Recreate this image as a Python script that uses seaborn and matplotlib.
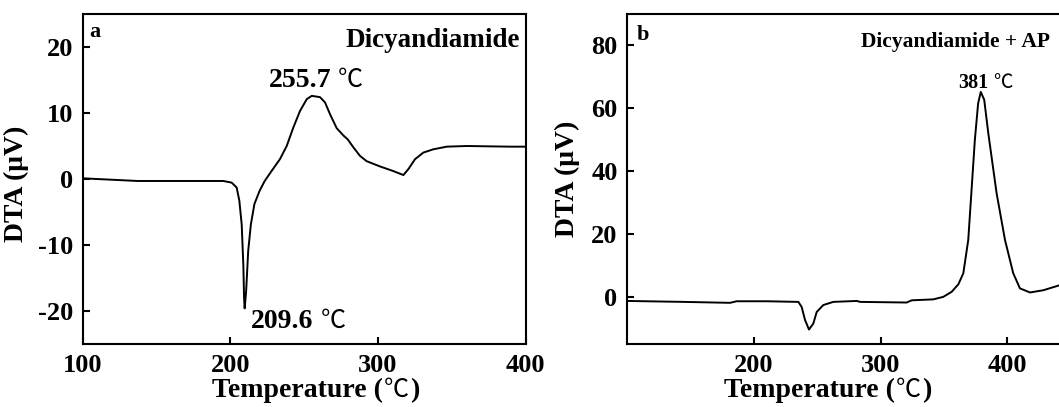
import numpy as np
import pandas as pd
import matplotlib
matplotlib.use("Agg")
import matplotlib.pyplot as plt
import seaborn as sns

# Panel a: Dicyandiamide
temp_a = [100, 137.1, 172.5, 195.1, 200.8, 204.2, 206.0, 207.6, 208.7, 209.2, 209.6,
          210.6, 212.0, 213.8, 216.2, 219.7, 223.2, 227.8, 233.5, 238.1, 242.6,
          247.1, 251.7, 255.1, 260.7, 264.1, 267.5, 272.0, 276.5, 279.5, 283.3,
          287.8, 292.3, 301.4, 310.4, 317.2, 320.6, 325.1, 330.7, 337.5, 346.6,
          360.1, 389.5, 400]
dta_a = [0.1, -0.3, -0.3, -0.3, -0.55, -1.3, -3.3, -6.9, -13.0, -18.0, -19.6,
         -17.0, -10.9, -6.9, -3.8, -1.8, -0.3, 1.2, 3.0, 5.0, 7.8,
         10.3, 12.1, 12.6, 12.4, 11.6, 9.8, 7.7, 6.6, 6.0, 4.8,
         3.5, 2.7, 1.9, 1.2, 0.6, 1.5, 3.0, 4.0, 4.5, 4.9,
         5.0, 4.9, 4.9]

# Panel b: Dicyandiamide + AP
temp_b = [100, 144.2, 181.1, 186.3, 210.0, 235.0, 237.6, 240.3, 243.4, 246.8, 249.5,
          254.7, 262.6, 281.1, 283.7, 320.5, 324.5, 341.5, 349.4, 356.0, 361.3,
          365.2, 369.1, 371.7, 374.3, 376.9, 379.0, 381.7, 384.9, 391.5, 398.1,
          404.6, 409.9, 417.8, 428.3, 442]
dta_b = [-1.3, -1.6, -1.9, -1.4, -1.4, -1.6, -3.2, -7.4, -10.4, -8.5, -4.8,
         -2.6, -1.6, -1.3, -1.6, -1.8, -1.1, -0.8, 0.0, 1.6, 4.0,
         7.5, 18.1, 34.0, 49.9, 61.6, 65.2, 62.7, 52.1, 32.9, 18.1,
         7.5, 2.7, 1.4, 2.1, 3.8]

xticks_a = [100, 200, 300, 400]
yticks_a = [-20, -10, 0, 10, 20]
xticks_b = [200, 300, 400]
yticks_b = [0, 20, 40, 60, 80]

sns.set_theme(style="ticks")
plt.rcParams['font.family'] = ['Liberation Serif', 'Noto Sans CJK SC', 'DejaVu Sans']
plt.rcParams['axes.unicode_minus'] = False
plt.rcParams['axes.linewidth'] = 1.5
for key in ['text.color', 'axes.labelcolor', 'xtick.color', 'ytick.color',
            'axes.edgecolor', 'xtick.labelcolor', 'ytick.labelcolor']:
    plt.rcParams[key] = 'black'

W, H = 1059, 407
fig = plt.figure(figsize=(W / 100, H / 100), dpi=100)
ax_a = fig.add_axes([83 / W, (H - 344) / H, (525.5 - 83) / W, (344 - 14) / H])
ax_b = fig.add_axes([627.3 / W, (H - 344) / H, (1061 - 627.3) / W, (344 - 14) / H])

df_a = pd.DataFrame({"T": temp_a, "DTA": dta_a})
df_b = pd.DataFrame({"T": temp_b, "DTA": dta_b})
sns.lineplot(data=df_a, x="T", y="DTA", ax=ax_a, color="black", linewidth=1.4)
sns.lineplot(data=df_b, x="T", y="DTA", ax=ax_b, color="black", linewidth=1.4)

deg = "\u2103"
ax_a.set_xlim(100, 400)
ax_a.set_ylim(-25, 25)
ax_a.set_xticks(xticks_a)
ax_a.set_yticks(yticks_a)
ax_b.set_xlim(100, 442.3)
ax_b.set_ylim(-15, 90)
ax_b.set_xticks(xticks_b)
ax_b.set_yticks(yticks_b)

for ax in (ax_a, ax_b):
    ax.tick_params(direction="in", length=5, width=1.5, labelsize=19, pad=7,
                   color="black", labelcolor="black")
    for lab in ax.get_xticklabels() + ax.get_yticklabels():
        lab.set_fontweight("bold")
    ax.set_xlabel("")
    ax.set_ylabel("DTA (\u03bcV)", fontsize=20, fontweight="bold", labelpad=2,
                  color="black")
    for s in ax.spines.values():
        s.set_linewidth(1.5)
        s.set_color("black")
        s.set_visible(True)
ax_a.yaxis.set_label_coords(-0.122, 0.485)
ax_b.yaxis.set_label_coords(-0.108, 0.5)

# panel letters and titles
ax_a.text(104.5, 21.5, "a", fontsize=16, fontweight="bold", ha="left", va="baseline")
ax_a.text(396.3, 20.0, "Dicyandiamide", fontsize=19.5, fontweight="bold",
          ha="right", va="baseline")
ax_b.text(107.2, 81.6, "b", fontsize=16, fontweight="bold", ha="left", va="baseline")
ax_b.text(433.6, 79.6, "Dicyandiamide + AP", fontsize=15.5, fontweight="bold",
          ha="right", va="baseline")

# peak annotations (number bold, degree sign regular)
cjk = ["Noto Sans CJK SC", "DejaVu Sans"]
ax_a.text(225.8, 14.0, "255.7", fontsize=20, fontweight="bold", ha="left", va="baseline")
ax_a.text(272.8, 14.0, deg, fontsize=18, family=cjk, ha="left", va="baseline")
ax_a.text(213.7, -22.6, "209.6", fontsize=20, fontweight="bold", ha="left", va="baseline")
ax_a.text(261.2, -22.6, deg, fontsize=18, family=cjk, ha="left", va="baseline")
ax_b.text(361.3, 66.4, "381", fontsize=14.5, fontweight="bold", ha="left", va="baseline")
ax_b.text(388.6, 66.4, deg, fontsize=14, family=cjk, ha="left", va="baseline")

# x labels composed of bold serif text and regular degree sign
fig.canvas.draw()
renderer = fig.canvas.get_renderer()


def composed_label(center_px, baseline_px):
    pieces = [("Temperature (", dict(fontsize=20, fontweight="bold")),
              (deg, dict(fontsize=18, family=cjk)),
              (")", dict(fontsize=20, fontweight="bold"))]
    arts = []
    for s, kw in pieces:
        t = fig.text(0, baseline_px / H, s, ha="left", va="baseline", color="black", **kw)
        arts.append(t)
    widths = [t.get_window_extent(renderer).width for t in arts]
    gaps = [0, 1, 1]
    total = sum(widths) + sum(gaps)
    x = center_px - total / 2
    for t, w, g in zip(arts, widths, gaps):
        x += g
        t.set_x(x / W)
        x += w


composed_label(316, H - 397)
composed_label(828, H - 397)

fig.savefig("out.png", dpi=100)
